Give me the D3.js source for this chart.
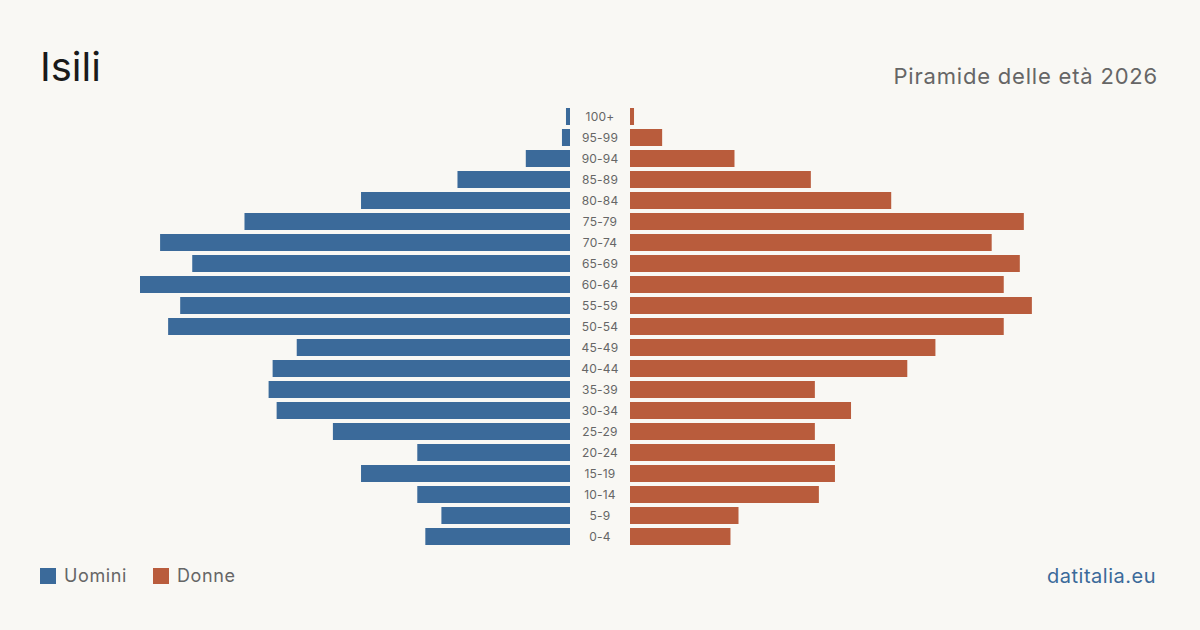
<!DOCTYPE html>
<html>
<head>
<meta charset="utf-8">
<script src="https://cdn.jsdelivr.net/npm/d3@7"></script>
<style>
  body { margin: 0; background: #f9f8f4; }
  svg { display: block; font-family: Inter, "Noto Sans", sans-serif; }
</style>
</head>
<body>
<svg id="chart" width="1200" height="630"></svg>
<script>
// age classes, top to bottom
const ageGroups = ["100+", "95-99", "90-94", "85-89", "80-84", "75-79", "70-74", "65-69",
  "60-64", "55-59", "50-54", "45-49", "40-44", "35-39", "30-34", "25-29", "20-24",
  "15-19", "10-14", "5-9", "0-4"];
const men   = [1, 2, 11, 28, 52, 81, 102, 94, 107, 97, 100, 68, 74, 75, 73, 59, 38, 52, 38, 32, 36];
const women = [1, 8, 26, 45, 65, 98, 90, 97, 93, 100, 93, 76, 69, 46, 55, 46, 51, 51, 47, 27, 25];

const blue = "#3b6a9a", orange = "#b95c3c";

const svg = d3.select("#chart");
svg.append("rect").attr("width", 1200).attr("height", 630).attr("fill", "#f9f8f4");

const center = 600, gap = 30;
const maxVal = d3.max(men.concat(women));

const x = d3.scaleLinear().domain([0, maxVal]).range([0, 430]);
const y = d3.scaleBand().domain(ageGroups).range([108, 545]).paddingInner(4 / 21).paddingOuter(0);

const rows = ageGroups.map((g, i) => ({ g, m: men[i], f: women[i] }));

svg.selectAll(".bar-m").data(rows).join("rect")
  .attr("class", "bar-m")
  .attr("x", d => center - gap - x(d.m))
  .attr("y", d => y(d.g))
  .attr("width", d => x(d.m))
  .attr("height", y.bandwidth())
  .attr("fill", blue);

svg.selectAll(".bar-f").data(rows).join("rect")
  .attr("class", "bar-f")
  .attr("x", center + gap)
  .attr("y", d => y(d.g))
  .attr("width", d => x(d.f))
  .attr("height", y.bandwidth())
  .attr("fill", orange);

svg.selectAll(".age").data(rows).join("text")
  .attr("class", "age")
  .attr("x", center)
  .attr("y", d => y(d.g) + y.bandwidth() / 2)
  .attr("dy", "0.35em")
  .attr("text-anchor", "middle")
  .attr("font-size", 12)
  .attr("letter-spacing", 0.2)
  .attr("fill", "#666")
  .text(d => d.g);

// titles
svg.append("text").attr("x", 40).attr("y", 81)
  .attr("font-size", 40).attr("fill", "#1a1a1a").text("Isili");
svg.append("text").attr("x", 1158).attr("y", 84)
  .attr("text-anchor", "end").attr("font-size", 22).attr("letter-spacing", 0.8).attr("fill", "#666")
  .text("Piramide delle età 2026");

// legend
const legend = [{ label: "Uomini", color: blue, x: 40 }, { label: "Donne", color: orange, x: 153 }];
const lg = svg.selectAll(".legend").data(legend).join("g")
  .attr("class", "legend")
  .attr("transform", d => `translate(${d.x},568)`);
lg.append("rect").attr("width", 16).attr("height", 16).attr("fill", d => d.color);
lg.append("text").attr("x", 24).attr("y", 8).attr("dy", "0.35em")
  .attr("font-size", 18).attr("letter-spacing", 0.6).attr("fill", "#666").text(d => d.label);

svg.append("text").attr("x", 1156).attr("y", 583)
  .attr("text-anchor", "end").attr("font-size", 20).attr("letter-spacing", 0.5).attr("fill", blue)
  .text("datitalia.eu");
</script>
</body>
</html>
